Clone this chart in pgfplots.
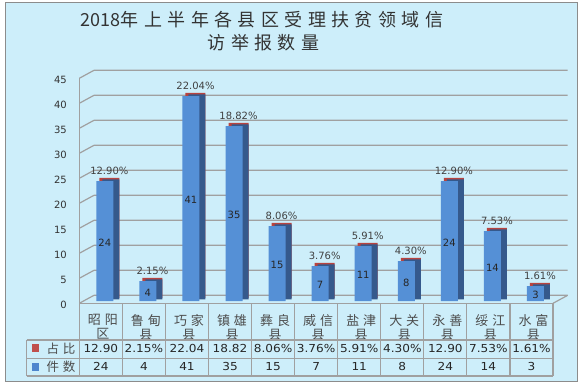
\documentclass[border=0pt]{standalone}
\usepackage{pgfplots}
\pgfplotsset{compat=1.18}
\usepackage{pgfplotstable}
\usepackage{fontspec}
\setmainfont{DejaVu Sans}
\newfontfamily\cjk{Noto Sans CJK SC}[LetterSpace=30]
\newfontfamily\cjknum{Noto Sans CJK SC}
\newfontfamily\tabnum{DejaVu Sans}[FakeStretch=1.1]

\definecolor{bgc}{HTML}{CDEEFA}
\definecolor{gridc}{HTML}{A0A0A0}
\definecolor{frontc}{HTML}{5590D6}
\definecolor{sidec}{HTML}{35598C}
\definecolor{capc}{HTML}{B8433F}
\definecolor{redkey}{HTML}{C0504D}
\definecolor{bluekey}{HTML}{4F86CE}

\pgfplotstableread{
x n pct
1 24 12.90
2 4 2.15
3 41 22.04
4 35 18.82
5 15 8.06
6 7 3.76
7 11 5.91
8 8 4.30
9 24 12.90
10 14 7.53
11 3 1.61
}\datatable

\begin{document}
\begin{tikzpicture}[x=1pt,y=1pt]
\path[use as bounding box] (0,0) rectangle (581,386);
\fill[white] (0,0) rectangle (581,386);
\draw[fill=bgc, draw=black!45, line width=1pt] (5,5) rectangle (577,383);

% title
\node[text=black!80, font=\fontsize{18}{22}\selectfont, inner sep=0pt] at (262,366) {\cjknum 2018\cjk 年上半年各县区受理扶贫领域信};
\node[text=black!80, font=\fontsize{18}{22}\selectfont, inner sep=0pt] at (263.5,343) {\cjk 访举报数量};

% back wall, left wall and floor
\foreach \v in {0,5,...,45} {
  \draw[gridc, line width=1.2pt] (79.3,{82.7+5*\v}) -- (94,{90.7+5*\v}) -- (567.7,{90.7+5*\v});
}
\draw[gridc, line width=1.2pt] (553,82.7) -- (567.7,90.7);
\draw[gridc, line width=1.2pt] (79.3,10) -- (79.3,307.7);

\begin{axis}[
  at={(79.3pt,84.9pt)}, anchor=south west,
  scale only axis, width=473.7pt, height=225pt,
  xmin=0.5, xmax=11.5, ymin=0, ymax=45, enlargelimits=false,
  axis line style={draw=none},
  major tick length=0pt,
  ytick={0,5,...,45},
  xtick={1,...,11},
  xticklabels={{昭阳\\区},{鲁甸\\县},{巧家\\县},{镇雄\\县},{彝良\\县},{威信\\县},{盐津\\县},{大关\\县},{永善\\县},{绥江\\县},{水富\\县}},
  xticklabel style={font=\cjk\fontsize{13}{14}\selectfont, text=black!70, align=center, anchor=north, inner sep=0pt, yshift=-13pt, xshift=2pt},
  yticklabel style={font=\fontsize{10}{12}\selectfont, text=black!80, anchor=east, inner sep=0pt, xshift=-12.3pt, yshift=-3.9pt},
  /pgf/number format/assume math mode=true,
  clip=false,
  ybar, bar width=17pt,
]
\addplot[fill=capc, draw=none, bar width=20pt, bar shift=8.5pt, yshift=3.3pt,
  point meta=explicit,
  nodes near coords={\pgfmathprintnumber[fixed,fixed zerofill,precision=2]{\pgfplotspointmeta}\%},
  nodes near coords style={font=\fontsize{10}{12}\selectfont, text=black!75, anchor=center, yshift=7pt}]
  table[x=x, y=n, meta=pct]{\datatable};
\addplot[fill=sidec, draw=none, bar shift=10pt, yshift=1.65pt]
  table[x=x, y=n]{\datatable};
\addplot[fill=frontc, draw=none, bar shift=4pt,
  visualization depends on={\thisrow{n}\as\rawn},
  nodes near coords,
  nodes near coords style={font=\fontsize{10}{12}\selectfont, text=black!85, anchor=center, yshift={-2.5*\rawn-1.5}}]
  table[x=x, y=n]{\datatable};
\end{axis}

% data table
\begin{scope}[gridc, line width=1.2pt]
\draw (79.3,82.7) -- (553,82.7);
\draw (26.5,46) -- (553,46);
\draw (26.5,27.5) -- (553,27.5);
\draw (26.5,10) -- (553,10);
\draw (26.5,10) -- (26.5,46);
\foreach \k in {1,...,11} { \draw ({79.3+43.064*\k},10) -- ({79.3+43.064*\k},82.7); }
\end{scope}
\fill[redkey] (31.7,34.3) rectangle (39.3,41.7);
\fill[bluekey] (31.7,15.5) rectangle (39.3,23);
\node[anchor=west, inner sep=0pt, text=black!70, font=\cjk\fontsize{12.5}{15}\selectfont] at (46.5,37.5) {占比};
\node[anchor=west, inner sep=0pt, text=black!70, font=\cjk\fontsize{12.5}{15}\selectfont] at (46.5,19.2) {件数};
\foreach \i/\p/\n in {1/12.90/24, 2/2.15\%/4, 3/22.04/41, 4/18.82/35, 5/8.06\%/15, 6/3.76\%/7, 7/5.91\%/11, 8/4.30\%/8, 9/12.90/24, 10/7.53\%/14, 11/1.61\%/3} {
  \node[inner sep=0pt, text=black!85, font=\tabnum\fontsize{11}{13}\selectfont] at ({79.3+43.064*\i-21.53},37.2) {\p};
  \node[inner sep=0pt, text=black!85, font=\tabnum\fontsize{11}{13}\selectfont] at ({79.3+43.064*\i-21.53},19.2) {\n};
}
\end{tikzpicture}
\end{document}
